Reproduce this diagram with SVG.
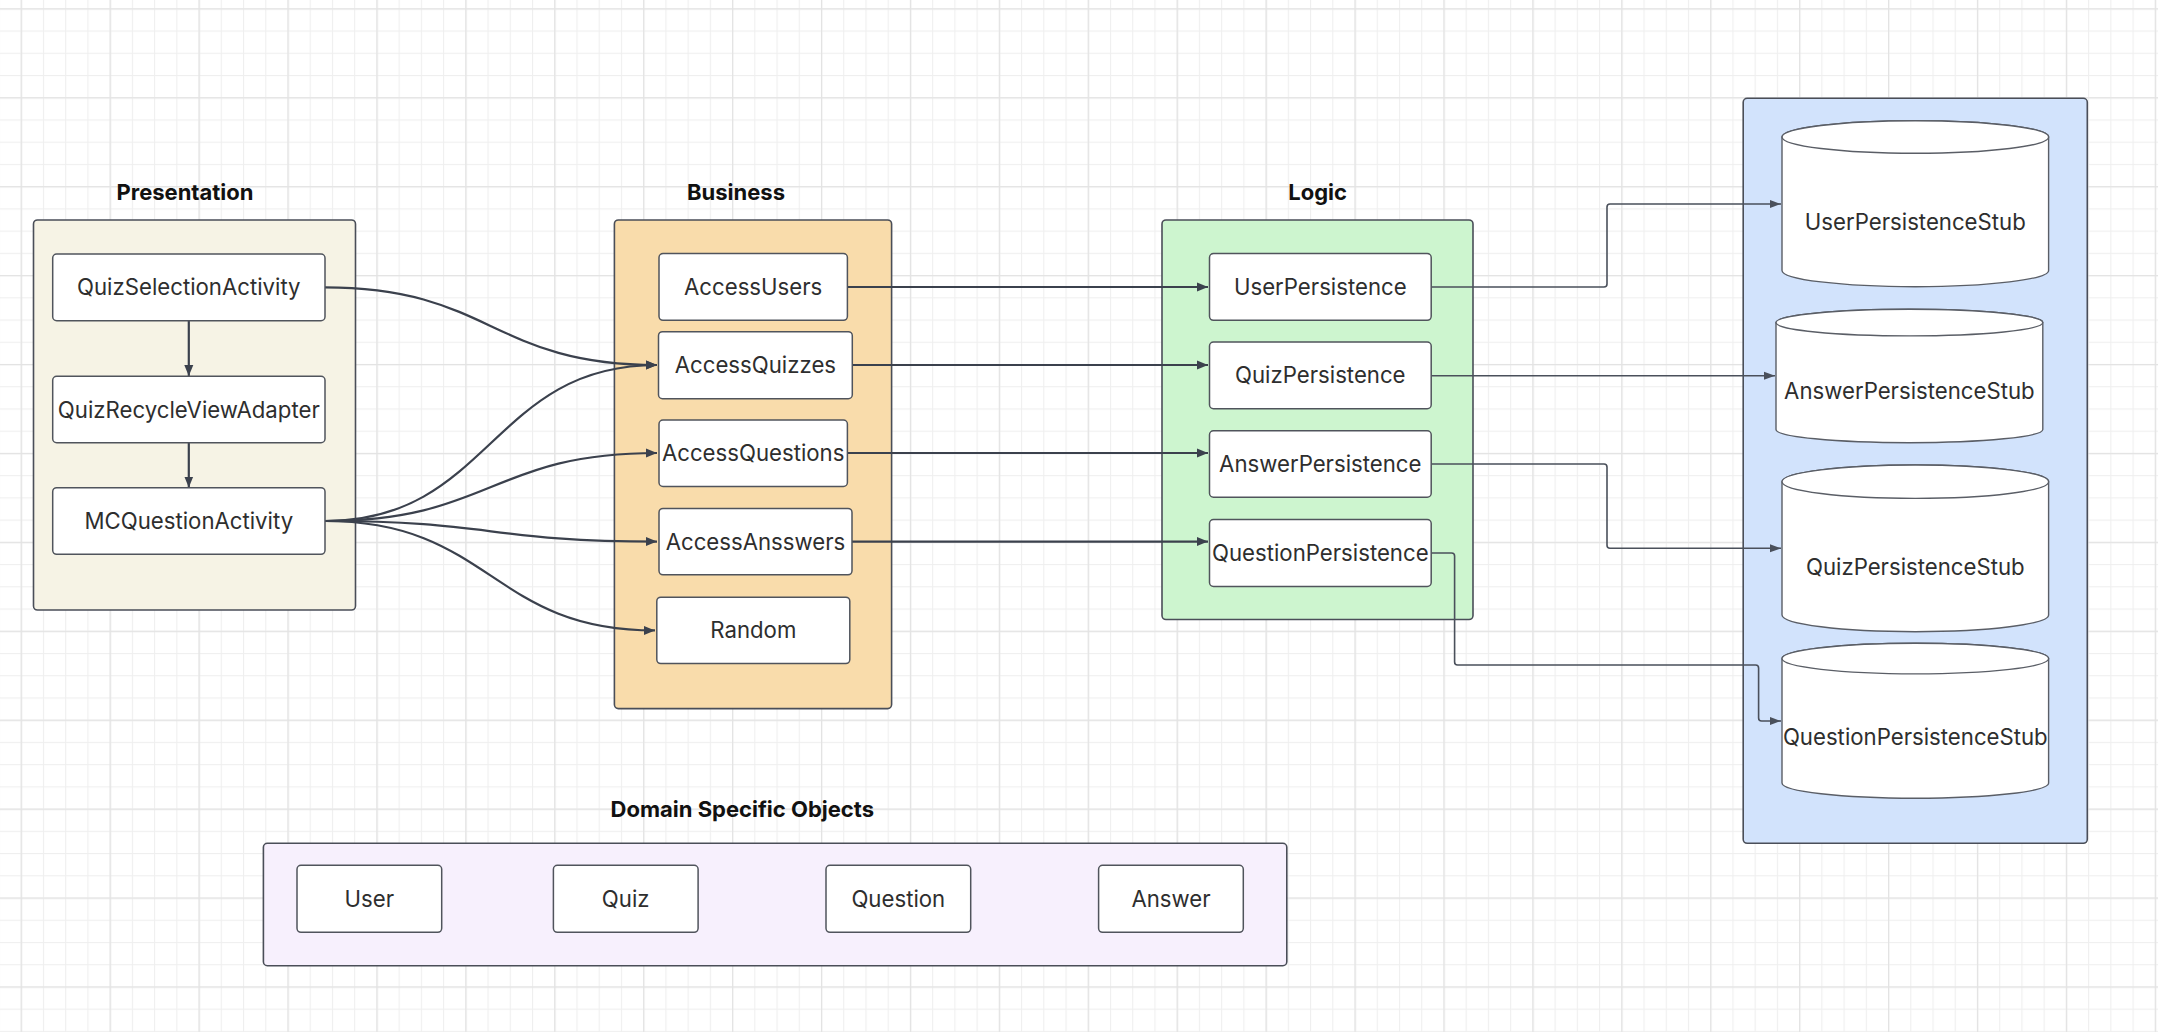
<svg xmlns="http://www.w3.org/2000/svg" width="2158" height="1032" viewBox="0 0 2158 1032">
<defs>
<pattern id="gridMinor" patternUnits="userSpaceOnUse" x="20.7" y="8.3" width="22.23" height="22.23">
<rect x="0" y="0" width="1.1" height="22.23" fill="#efefef"/>
<rect x="0" y="0" width="22.23" height="1.1" fill="#efefef"/>
</pattern>
<pattern id="gridMajor" patternUnits="userSpaceOnUse" x="20.7" y="8.3" width="88.92" height="88.92">
<rect x="0" y="0" width="1.3" height="88.92" fill="#e3e3e3"/>
<rect x="0" y="0" width="88.92" height="1.3" fill="#e3e3e3"/>
</pattern>
<marker id="arr" markerUnits="userSpaceOnUse" markerWidth="12" markerHeight="10" refX="11" refY="5" orient="auto">
<path d="M0,0.5 L11,5 L0,9.5 z" fill="#3b414d"/>
</marker>
<marker id="arrS" markerUnits="userSpaceOnUse" markerWidth="12" markerHeight="10" refX="11" refY="5" orient="auto">
<path d="M0,1 L11,5 L0,9 z" fill="#4a505b"/>
</marker>
</defs>
<style>
.bg{fill:#ffffff}
.cont{stroke:#4a4e58;stroke-width:1.6}
.node{fill:#ffffff;stroke:#50545c;stroke-width:1.5}
.cyl{fill:#ffffff;stroke:#5a5e66;stroke-width:1.4}
.lbl{font-family:Inter,"Noto Sans",sans-serif;font-size:22.2px;fill:#2e2e2e;text-anchor:middle}
.ttl{font-family:Inter,"Noto Sans",sans-serif;font-size:22px;font-weight:bold;fill:#111111;text-anchor:middle}
.conn path{fill:none;stroke:#3b414d;stroke-width:2.2;marker-end:url(#arr)}
.conn path.thin{stroke:#4a505b;stroke-width:1.6;marker-end:url(#arrS)}
</style>
<rect class="bg" x="0" y="0" width="2158" height="1032"/>
<rect x="0" y="0" width="2158" height="1032" fill="url(#gridMinor)"/>
<rect x="0" y="0" width="2158" height="1032" fill="url(#gridMajor)"/>

<g id="presentation">
<rect class="cont" x="33.5" y="220" width="322" height="390" rx="4" fill="#f6f3e5"/>
<text class="ttl" x="185" y="200">Presentation</text>
</g>
<g id="business">
<rect class="cont" x="614.4" y="220" width="277.2" height="488.6" rx="4" fill="#f9dcab"/>
<text class="ttl" x="736" y="200">Business</text>
</g>
<g id="logic">
<rect class="cont" x="1162" y="220" width="311" height="399.5" rx="4" fill="#cdf5cf"/>
<text class="ttl" x="1317.6" y="200">Logic</text>
</g>
<g id="persistence">
<rect class="cont" x="1743.2" y="98.3" width="344.1" height="745" rx="4" fill="#d2e3fc"/>
</g>
<g id="domain">
<rect class="cont" x="263.4" y="843.3" width="1023.4" height="122.4" rx="4" fill="#f7f0fd"/>
<text class="ttl" x="742.3" y="817.3">Domain Specific Objects</text>
</g>

<g id="connectors" class="conn">
<path d="M325,287.3 C491,287.3 491,365 657,365"/>
<path d="M325,521 C491,521 491,365 657,365"/>
<path d="M325,521 C491,521 491,453 657,453"/>
<path d="M325,521 C491,521 491,541.6 657,541.6"/>
<path d="M325,521 C491,521 491,630.4 655,630.4"/>
<path d="M188.8,320.7 V376"/>
<path d="M188.8,442.7 V487.5"/>
<path d="M847.4,287 H1208"/>
<path d="M852.3,365 H1208"/>
<path d="M847.4,453 H1208"/>
<path d="M852,541.6 H1208"/>
<path class="thin" d="M1431.2,287 H1604 Q1607,287 1607,284 V207 Q1607,204 1610,204 H1781"/>
<path class="thin" d="M1431.2,375.8 H1775"/>
<path class="thin" d="M1431.2,464 H1604 Q1607,464 1607,467 V545.3 Q1607,548.3 1610,548.3 H1781"/>
<path class="thin" d="M1431.2,553 H1451.6 Q1454.6,553 1454.6,556 V662 Q1454.6,665 1457.6,665 H1755.6 Q1758.6,665 1758.6,668 V718 Q1758.6,721 1761.6,721 H1781"/>
</g>

<g id="QuizSelectionActivity"><rect class="node" x="52.7" y="254" width="272.3" height="66.7" rx="4"/><text class="lbl" x="188.8" y="295.3">QuizSelectionActivity</text></g>
<g id="QuizRecycleViewAdapter"><rect class="node" x="52.7" y="376.3" width="272.3" height="66.4" rx="4"/><text class="lbl" x="188.8" y="417.5">QuizRecycleViewAdapter</text></g>
<g id="MCQuestionActivity"><rect class="node" x="52.7" y="487.7" width="272.3" height="66.6" rx="4"/><text class="lbl" x="188.8" y="529">MCQuestionActivity</text></g>

<g id="AccessUsers"><rect class="node" x="659" y="253.5" width="188.4" height="66.8" rx="4"/><text class="lbl" x="753.2" y="295">AccessUsers</text></g>
<g id="AccessQuizzes"><rect class="node" x="658.5" y="331.7" width="193.8" height="67" rx="4"/><text class="lbl" x="755.4" y="373">AccessQuizzes</text></g>
<g id="AccessQuestions"><rect class="node" x="659" y="420" width="188.4" height="66.4" rx="4"/><text class="lbl" x="753.2" y="461">AccessQuestions</text></g>
<g id="AccessAnsswers"><rect class="node" x="659" y="508.4" width="193" height="66.4" rx="4"/><text class="lbl" x="755.5" y="549.6">AccessAnsswers</text></g>
<g id="Random"><rect class="node" x="656.8" y="597.2" width="193" height="66.4" rx="4"/><text class="lbl" x="753.3" y="638.4">Random</text></g>

<g id="UserPersistence"><rect class="node" x="1209.5" y="253.5" width="221.7" height="66.8" rx="4"/><text class="lbl" x="1320.3" y="295">UserPersistence</text></g>
<g id="QuizPersistence"><rect class="node" x="1209.5" y="342" width="221.7" height="66.7" rx="4"/><text class="lbl" x="1320.3" y="383.3">QuizPersistence</text></g>
<g id="AnswerPersistence"><rect class="node" x="1209.5" y="430.8" width="221.7" height="66.4" rx="4"/><text class="lbl" x="1320.3" y="472">AnswerPersistence</text></g>
<g id="QuestionPersistence"><rect class="node" x="1209.5" y="519.6" width="221.7" height="66.8" rx="4"/><text class="lbl" x="1320.3" y="561">QuestionPersistence</text></g>

<g id="UserPersistenceStub">
<path class="cyl" d="M1782,137 V270.4 A133.3,16.3 0 0 0 2048.6,270.4 V137 A133.3,16.3 0 0 0 1782,137 Z"/>
<ellipse class="cyl" cx="1915.3" cy="137" rx="133.3" ry="16.3"/>
<text class="lbl" x="1915.3" y="230">UserPersistenceStub</text>
</g>
<g id="AnswerPersistenceStub">
<path class="cyl" d="M1776,322.6 V429.4 A133.4,13.3 0 0 0 2042.8,429.4 V322.6 A133.4,13.3 0 0 0 1776,322.6 Z"/>
<ellipse class="cyl" cx="1909.4" cy="322.6" rx="133.4" ry="13.3"/>
<text class="lbl" x="1909.4" y="399.3">AnswerPersistenceStub</text>
</g>
<g id="QuizPersistenceStub">
<path class="cyl" d="M1782,481.7 V615 A133.3,16.7 0 0 0 2048.6,615 V481.7 A133.3,16.7 0 0 0 1782,481.7 Z"/>
<ellipse class="cyl" cx="1915.3" cy="481.7" rx="133.3" ry="16.7"/>
<text class="lbl" x="1915.3" y="575">QuizPersistenceStub</text>
</g>
<g id="QuestionPersistenceStub">
<path class="cyl" d="M1782,658.6 V783 A133.3,15.3 0 0 0 2048.6,783 V658.6 A133.3,15.3 0 0 0 1782,658.6 Z"/>
<ellipse class="cyl" cx="1915.3" cy="658.6" rx="133.3" ry="15.3"/>
<text class="lbl" x="1915.3" y="745">QuestionPersistenceStub</text>
</g>

<g id="User"><rect class="node" x="297" y="865.3" width="144.7" height="67" rx="4"/><text class="lbl" x="369.3" y="906.8">User</text></g>
<g id="Quiz"><rect class="node" x="553.4" y="865.3" width="144.7" height="67" rx="4"/><text class="lbl" x="625.7" y="906.8">Quiz</text></g>
<g id="Question"><rect class="node" x="826" y="865.3" width="144.7" height="67" rx="4"/><text class="lbl" x="898.3" y="906.8">Question</text></g>
<g id="Answer"><rect class="node" x="1098.6" y="865.3" width="144.7" height="67" rx="4"/><text class="lbl" x="1171" y="906.8">Answer</text></g>
</svg>
